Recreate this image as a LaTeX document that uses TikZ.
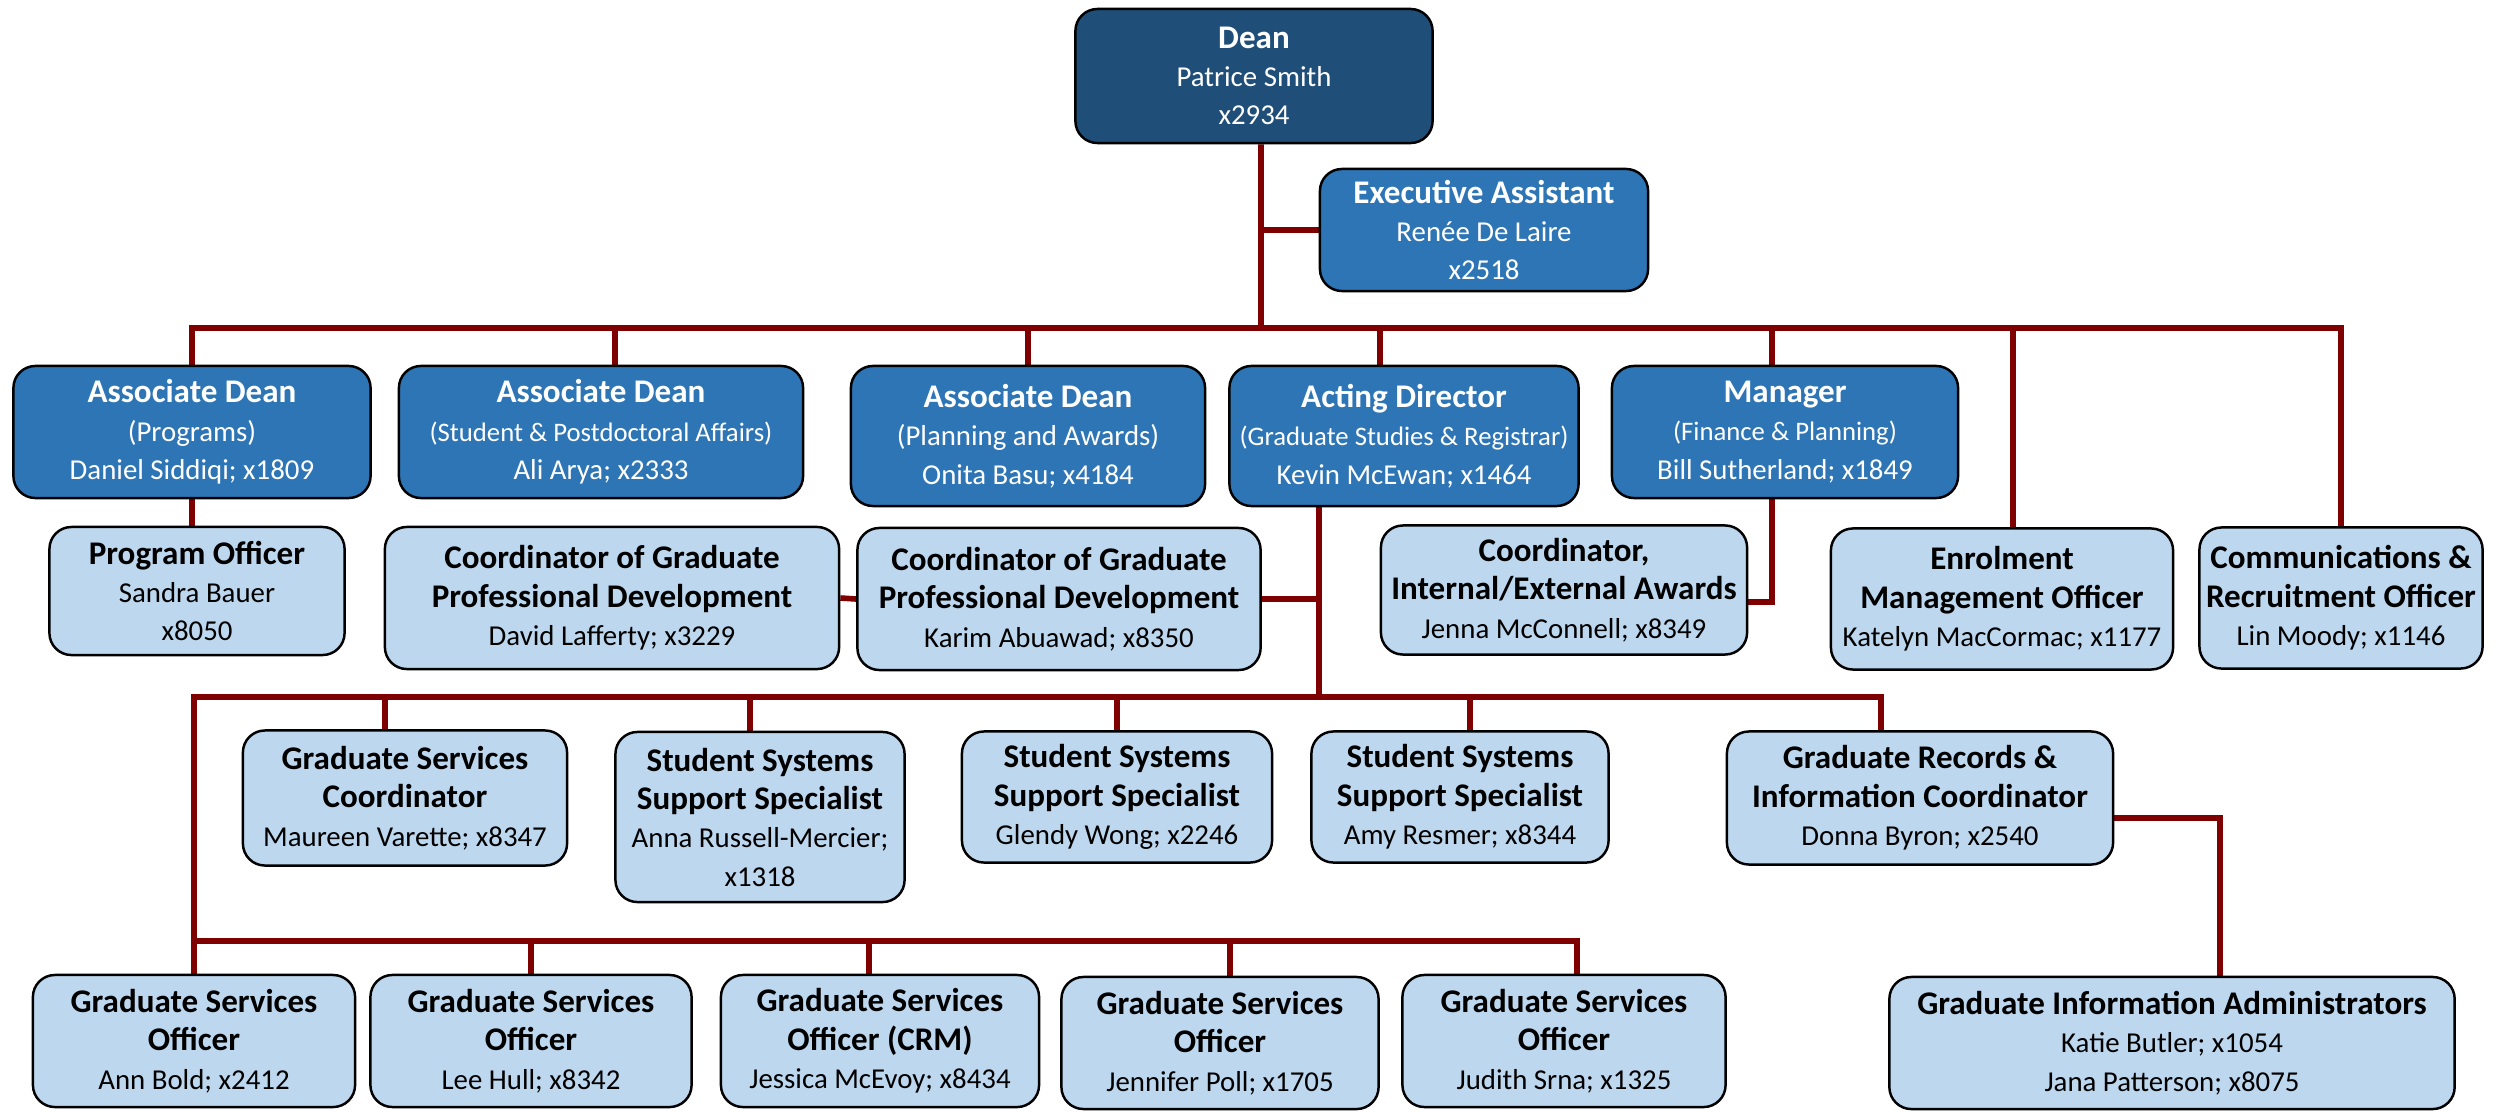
\documentclass[tikz,border=0pt]{standalone}
\usepackage{fontspec}
\setmainfont{Carlito}
\usetikzlibrary{positioning, calc}
\definecolor{dean_navy}{HTML}{1F4E79}
\definecolor{unit_blue}{HTML}{2E75B6}
\definecolor{staff_blue}{HTML}{BDD7EE}
\definecolor{line_red}{HTML}{7F0000}
\tikzset{
  orgbox/.style={rectangle,rounded corners=.22cm,draw=black,line width=.7pt,align=center,inner sep=.05cm,font=\fontsize{8.2}{10.9}\selectfont},
  headbox/.style={orgbox,fill=dean_navy,text=white},
  unitbox/.style={orgbox,fill=unit_blue,text=white},
  staffbox/.style={orgbox,fill=staff_blue,text=black},
  orgline/.style={line_red,line width=1.6pt},
}
\newcommand{\ttl}[1]{{\fontsize{9.4}{11}\selectfont\bfseries #1}}
\newcommand{\subttl}[1]{{\fontsize{7.6}{9}\selectfont #1}}
\pgfdeclarelayer{back}
\pgfsetlayers{back,main}
\begin{document}
\begin{tikzpicture}[x=0.01cm,y=-0.01cm]
	    \useasboundingbox (0,0) rectangle (2497,1112);
	    % dean and office
	    \node[headbox,minimum width=3.57cm,minimum height=1.34cm] (dean) at (1254,76) {\ttl{Dean}\\Patrice Smith\\x2934};
	    \node[unitbox,minimum width=3.28cm,minimum height=1.22cm] (ea) at (1484,230) {\ttl{Executive Assistant}\\Renée De Laire\\x2518};
	    % second row
	    \node[unitbox,minimum width=3.57cm,minimum height=1.32cm] (ad1) at (192,432) {\ttl{Associate Dean}\\(Programs)\\Daniel Siddiqi; x1809};
	    \node[unitbox,minimum width=4.04cm,minimum height=1.32cm] (ad2) at (601,432) {\ttl{Associate Dean}\\\subttl{(Student \& Postdoctoral Affairs)}\\Ali Arya; x2333};
	    \node[unitbox,minimum width=3.54cm,minimum height=1.40cm] (ad3) at (1028,436) {\ttl{Associate Dean}\\(Planning and Awards)\\Onita Basu; x4184};
	    \node[unitbox,minimum width=3.49cm,minimum height=1.40cm] (dir) at (1404,436) {\ttl{Acting Director}\\\subttl{(Graduate Studies \& Registrar)}\\Kevin McEwan; x1464};
	    \node[unitbox,minimum width=3.46cm,minimum height=1.32cm] (mgr) at (1785,432) {\ttl{Manager}\\\subttl{(Finance \& Planning)}\\Bill Sutherland; x1849};
	    % third row
	    \node[staffbox,minimum width=2.95cm,minimum height=1.28cm] (po) at (197,591) {\ttl{Program Officer}\\Sandra Bauer\\x8050};
	    \node[staffbox,minimum width=4.54cm,minimum height=1.42cm] (gpd1) at (612,598) {\ttl{Coordinator of Graduate}\\\ttl{Professional Development}\\David Lafferty; x3229};
	    \node[staffbox,minimum width=4.03cm,minimum height=1.42cm] (gpd2) at (1059,599) {\ttl{Coordinator of Graduate}\\\ttl{Professional Development}\\Karim Abuawad; x8350};
	    \node[staffbox,minimum width=3.66cm,minimum height=1.29cm] (cie) at (1564,590) {\ttl{Coordinator,}\\\ttl{Internal/External Awards}\\Jenna McConnell; x8349};
	    \node[staffbox,minimum width=3.42cm,minimum height=1.41cm] (emo) at (2002,599) {\ttl{Enrolment}\\\ttl{Management Officer}\\Katelyn MacCormac; x1177};
	    \node[staffbox,minimum width=2.83cm,minimum height=1.41cm] (cro) at (2341,598) {\ttl{Communications \&}\\\ttl{Recruitment Officer}\\Lin Moody; x1146};
	    % fourth row
	    \node[staffbox,minimum width=3.24cm,minimum height=1.35cm] (gsc) at (405,798) {\ttl{Graduate Services}\\\ttl{Coordinator}\\Maureen Varette; x8347};
	    \node[staffbox,minimum width=2.89cm,minimum height=1.70cm] (sss1) at (760,817) {\ttl{Student Systems}\\\ttl{Support Specialist}\\Anna Russell-Mercier;\\x1318};
	    \node[staffbox,minimum width=3.10cm,minimum height=1.31cm] (sss2) at (1117,797) {\ttl{Student Systems}\\\ttl{Support Specialist}\\Glendy Wong; x2246};
	    \node[staffbox,minimum width=2.97cm,minimum height=1.31cm] (sss3) at (1460,797) {\ttl{Student Systems}\\\ttl{Support Specialist}\\Amy Resmer; x8344};
	    \node[staffbox,minimum width=3.86cm,minimum height=1.33cm] (gric) at (1920,798) {\ttl{Graduate Records \&}\\\ttl{Information Coordinator}\\Donna Byron; x2540};
	    % bottom row
	    \node[staffbox,minimum width=3.22cm,minimum height=1.32cm] (gso1) at (194,1041) {\ttl{Graduate Services}\\\ttl{Officer}\\Ann Bold; x2412};
	    \node[staffbox,minimum width=3.21cm,minimum height=1.32cm] (gso2) at (531,1041) {\ttl{Graduate Services}\\\ttl{Officer}\\Lee Hull; x8342};
	    \node[staffbox,minimum width=3.18cm,minimum height=1.32cm] (gso3) at (880,1041) {\ttl{Graduate Services}\\\ttl{Officer (CRM)}\\Jessica McEvoy; x8434};
	    \node[staffbox,minimum width=3.17cm,minimum height=1.32cm] (gso4) at (1220,1043) {\ttl{Graduate Services}\\\ttl{Officer}\\Jennifer Poll; x1705};
	    \node[staffbox,minimum width=3.23cm,minimum height=1.32cm] (gso5) at (1564,1041) {\ttl{Graduate Services}\\\ttl{Officer}\\Judith Srna; x1325};
	    \node[staffbox,minimum width=5.65cm,minimum height=1.32cm] (gia) at (2172,1043) {\ttl{Graduate Information Administrators}\\Katie Butler; x1054\\Jana Patterson; x8075};
	    % bus points
	    \coordinate (trunk) at ([xshift=.07cm]dean.south);
	    \coordinate (topbus) at (1261,328);
	    \coordinate (midbus) at (1319,697);
	    \coordinate (lowbus) at (194,941);
	    \begin{pgfonlayer}{back}
	    \draw[orgline] (trunk) -- (topbus);
	    \draw[orgline] (ea.west) -- (ea.west -| trunk);
	    \draw[orgline] (ad1.north) |- (topbus) -| (cro.north);
	    \foreach \n/\dx in {ad2/.14, ad3/0, dir/-.24, mgr/-.13, emo/.11}
	        \draw[orgline] ([xshift=\dx cm]\n.north) -- ([xshift=\dx cm]\n.north |- topbus);
	    \draw[orgline] (ad1.south) -- (ad1.south |- po.north);
	    \draw[orgline] ([xshift=-.13cm]mgr.south) |- ([yshift=-.12cm]cie.east);
	    \draw[orgline] (dir.south -| midbus) -- (midbus);
	    \draw[orgline] (gpd2.east) -- (gpd2.east -| midbus);
	    \draw[orgline] (gpd1.east) -- (gpd2.west);
	    \draw[orgline] ([xshift=-.39cm]gric.north) |- (midbus) -| (gso1.north);
	    \foreach \n/\dx in {gsc/-.2, sss1/-.1, sss2/0, sss3/.1}
	        \draw[orgline] ([xshift=\dx cm]\n.north) -- ([xshift=\dx cm]\n.north |- midbus);
	    \draw[orgline] (lowbus) -| ([xshift=.13cm]gso5.north);
	    \foreach \n/\dx in {gso2/0, gso3/-.11, gso4/.1}
	        \draw[orgline] ([xshift=\dx cm]\n.north) -- ([xshift=\dx cm]\n.north |- lowbus);
	    \draw[orgline] ([yshift=-.2cm]gric.east) -| ([xshift=.48cm]gia.north);
	    \end{pgfonlayer}
	\end{tikzpicture}
\end{document}
